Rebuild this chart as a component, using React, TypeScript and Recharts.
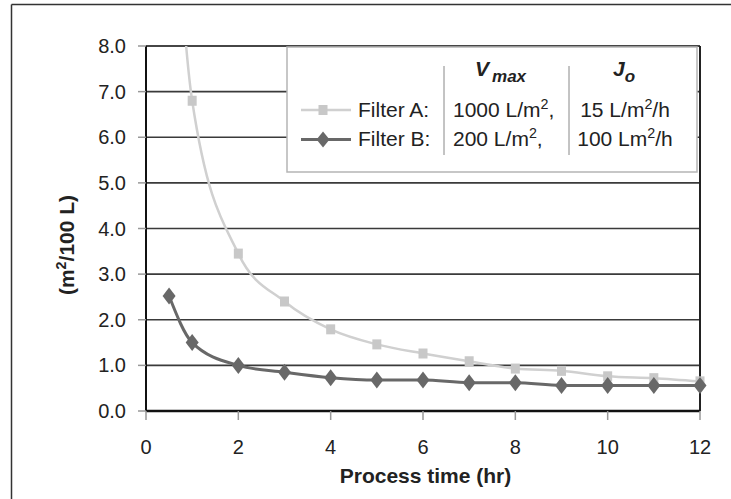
import React from 'react';
import { LineChart, Line, XAxis, YAxis, CartesianGrid, ReferenceLine } from 'recharts';

// Process time (hr)
const times = [0.5, 1, 2, 3, 4, 5, 6, 7, 8, 9, 10, 11, 12];
// Area needed (m2/100 L)
const filterA = [13.6, 6.8, 3.45, 2.4, 1.79, 1.46, 1.26, 1.09, 0.93, 0.88, 0.76, 0.72, 0.65];
const filterB = [2.52, 1.5, 1.0, 0.85, 0.73, 0.68, 0.68, 0.62, 0.62, 0.56, 0.56, 0.56, 0.56];
const xTicks = [0, 2, 4, 6, 8, 10, 12];
const yTicks = [0, 1, 2, 3, 4, 5, 6, 7, 8];
const seriesNames = ['Filter A:', 'Filter B:'];
const vmaxText = [['1000 L/m', '2', ','], ['200 L/m', '2', ',']];
const joText = [['15 L/m', '2', '/h'], ['100 Lm', '2', '/h']];
const xTitle = 'Process time (hr)';

const data = times.map((t, i) => ({ t, a: filterA[i], b: filterB[i] }));

const COLOR_A = '#c8c8c8';
const LINE_A = '#d0d0d0';
const COLOR_B = '#686868';
const FONT = '"Liberation Sans", Arial, Helvetica, sans-serif';

const SquareDot = (props: any) => {
  const { cx, cy, payload } = props;
  if (payload.a > 8 || cx == null || cy == null) return <g key={`sa-${payload.t}`} />;
  return <rect key={`sa-${payload.t}`} x={cx - 4.5} y={cy - 5} width={9} height={10} fill={COLOR_A} />;
};

const DiamondDot = (props: any) => {
  const { cx, cy, payload } = props;
  if (cx == null || cy == null) return <g key={`db-${payload.t}`} />;
  return (
    <polygon
      key={`db-${payload.t}`}
      points={`${cx},${cy - 8.5} ${cx + 6.5},${cy} ${cx},${cy + 8.5} ${cx - 6.5},${cy}`}
      fill={COLOR_B}
    />
  );
};

const Sup = ({ parts, big }: { parts: string[]; big: number }) => (
  <>
    <tspan>{parts[0]}</tspan>
    <tspan dy={-8} fontSize={big * 0.68}>{parts[1]}</tspan>
    <tspan dy={8} fontSize={big}>{parts[2]}</tspan>
  </>
);

export default function App() {
  const legendRows = [
    { y: 117, lineY: 110 },
    { y: 146, lineY: 139.5 },
  ];
  return (
    <div
      style={{
        position: 'absolute',
        left: 0,
        top: 0,
        width: 731,
        height: 499,
        background: '#fff',
        fontFamily: FONT,
        overflow: 'hidden',
      }}
    >
      <LineChart
        width={731}
        height={499}
        data={data}
        margin={{ top: 46, right: 31, left: 0, bottom: 0 }}
      >
        <CartesianGrid horizontal vertical={false} stroke="#3a3a3a" strokeWidth={1.6} />
        <XAxis
          dataKey="t"
          type="number"
          domain={[0, 12]}
          ticks={xTicks}
          height={88}
          axisLine={{ stroke: '#111', strokeWidth: 2.5 }}
          tickLine={{ stroke: '#999', strokeWidth: 1.5 }}
          tickSize={9}
          tickMargin={20}
          tick={{ fill: '#222', fontSize: 20, fontFamily: FONT }}
        />
        <YAxis
          type="number"
          domain={[0, 8]}
          ticks={yTicks}
          allowDataOverflow
          width={146}
          axisLine={{ stroke: '#111', strokeWidth: 2 }}
          tickLine={{ stroke: '#999', strokeWidth: 1.5 }}
          tickSize={8}
          tickMargin={12}
          tickFormatter={(v: number) => v.toFixed(1)}
          tick={{ fill: '#222', fontSize: 20, fontFamily: FONT }}
        />
        <ReferenceLine y={8} stroke="#3a3a3a" strokeWidth={1.6} />
        <ReferenceLine x={12} stroke="#222" strokeWidth={2} />
        <Line
          type="monotone"
          dataKey="a"
          name={seriesNames[0]}
          stroke={LINE_A}
          strokeWidth={2.5}
          dot={<SquareDot />}
          isAnimationActive={false}
        />
        <Line
          type="monotone"
          dataKey="b"
          name={seriesNames[1]}
          stroke={COLOR_B}
          strokeWidth={3}
          dot={<DiamondDot />}
          isAnimationActive={false}
        />
      </LineChart>
      <svg
        width={731}
        height={499}
        style={{ position: 'absolute', left: 0, top: 0, pointerEvents: 'none' }}
        fontFamily={FONT}
      >
        {/* outer frame */}
        <line x1={11.5} y1={4.5} x2={731} y2={4.5} stroke="#333" strokeWidth={1.5} />
        <line x1={11.5} y1={4.5} x2={11.5} y2={499} stroke="#333" strokeWidth={1.5} />
        {/* axis titles */}
        <text
          transform="translate(73.5,245) rotate(-90)"
          textAnchor="middle"
          fontSize={21}
          fontWeight="bold"
          fill="#222"
        >
          <Sup parts={['(m', '2', '/100 L)']} big={21} />
        </text>
        <text x={425.5} y={483} textAnchor="middle" fontSize={21} fontWeight="bold" fill="#222">
          {xTitle}
        </text>
        {/* legend */}
        <rect x={287} y={47} width={410} height={125} fill="#fff" stroke="#b5b5b5" strokeWidth={1.5} />
        <line x1={444} y1={66} x2={444} y2={155} stroke="#888" strokeWidth={1} />
        <line x1={569} y1={66} x2={569} y2={155} stroke="#888" strokeWidth={1} />
        <text x={475} y={76} fontSize={21} fontWeight="bold" fontStyle="italic" fill="#222">
          <tspan>V</tspan>
          <tspan dx={3} dy={6} fontSize={17}>max</tspan>
        </text>
        <text x={613} y={76} fontSize={21} fontWeight="bold" fontStyle="italic" fill="#222">
          <tspan>J</tspan>
          <tspan dy={6} fontSize={17}>o</tspan>
        </text>
        {legendRows.map((r, i) => (
          <g key={i}>
            <line
              x1={301}
              x2={351}
              y1={r.lineY}
              y2={r.lineY}
              stroke={i === 0 ? LINE_A : COLOR_B}
              strokeWidth={i === 0 ? 2.5 : 3}
            />
            {i === 0 ? (
              <rect x={318.5} y={r.lineY - 5} width={9} height={10} fill={COLOR_A} />
            ) : (
              <polygon
                points={`323,${r.lineY - 8} 329.5,${r.lineY} 323,${r.lineY + 8} 316.5,${r.lineY}`}
                fill={COLOR_B}
              />
            )}
            <text x={358} y={r.y} fontSize={21} fill="#222">{seriesNames[i]}</text>
            <text x={453} y={r.y} fontSize={21} fill="#222">
              <Sup parts={vmaxText[i]} big={21} />
            </text>
            <text x={625} y={r.y} fontSize={21} fill="#222" textAnchor="middle">
              <Sup parts={joText[i]} big={21} />
            </text>
          </g>
        ))}
      </svg>
    </div>
  );
}
